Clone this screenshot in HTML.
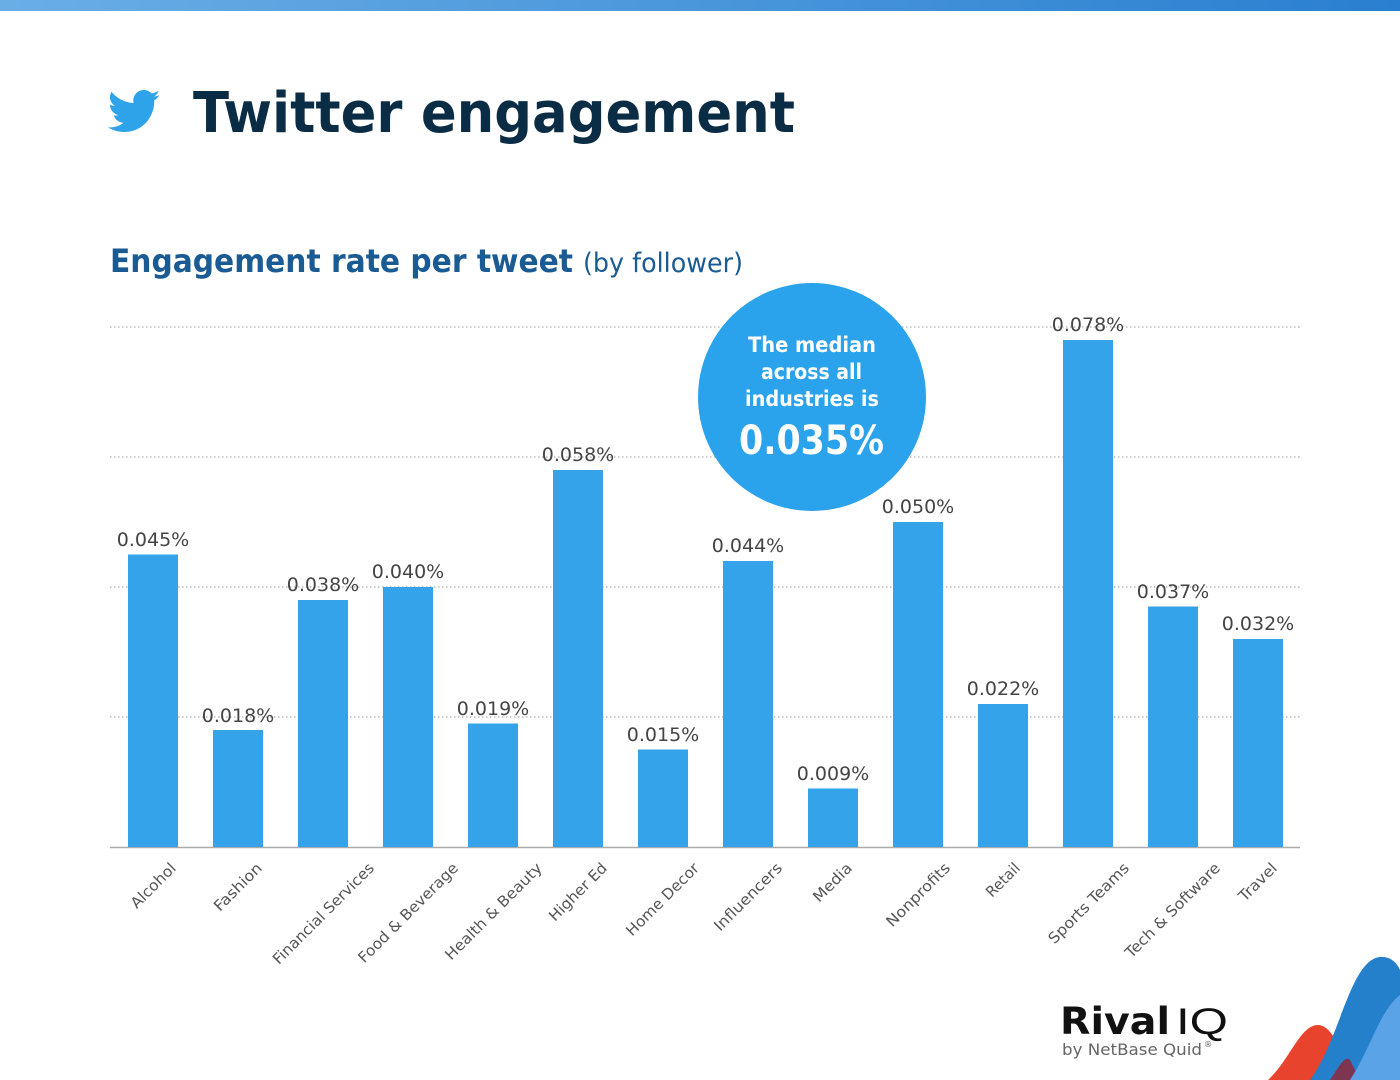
<!DOCTYPE html>
<html><head><meta charset="utf-8"><style>
html,body{margin:0;padding:0;background:#fff;}
svg{display:block;font-family:"DejaVu Sans","Liberation Sans",sans-serif;}
</style></head><body>
<svg width="1400" height="1080" viewBox="0 0 1400 1080" xmlns="http://www.w3.org/2000/svg">
<defs>
<linearGradient id="tb" x1="0" x2="1" y1="0" y2="0"><stop offset="0" stop-color="#6aaee6"/><stop offset="1" stop-color="#2a7fd0"/></linearGradient>
</defs>
<rect x="0" y="0" width="1400" height="11" fill="url(#tb)"/>
<path transform="translate(108,90) scale(2.2)" fill="#2ea3ea" d="M23.6 2.3c-.9.4-1.8.6-2.8.8 1-.6 1.8-1.6 2.1-2.7-.9.6-2 1-3.100 1.2C18.9.6 17.7 0 16.3 0c-2.7 0-4.8 2.2-4.8 4.8 0 .4 0 .8.1 1.1C7.6 5.7 4 3.800 1.600.8c-.4.7-.7 1.600-.7 2.400 0 1.700.9 3.200 2.200 4-.8 0-1.500-.2-2.200-.6v.1c0 2.300 1.700 4.300 3.900 4.700-.4.1-.8.2-1.300.2-.3 0-.6 0-.9-.1.6 1.900 2.400 3.400 4.500 3.400-1.700 1.300-3.700 2.100-6 2.100-.4 0-.8 0-1.200-.1 2.100 1.400 4.700 2.200 7.400 2.200 8.900 0 13.700-7.400 13.700-13.700v-.6c1-.7 1.800-1.500 2.400-2.500z"/>
<text x="193" y="132" font-size="56" font-weight="bold" fill="#0b2c45" textLength="602" lengthAdjust="spacingAndGlyphs">Twitter engagement</text>
<text x="110" y="272" font-size="32" font-weight="bold" fill="#1b5b94" textLength="463" lengthAdjust="spacingAndGlyphs">Engagement rate per tweet</text>
<text x="583" y="272" font-size="27" fill="#1b5b94" textLength="160" lengthAdjust="spacingAndGlyphs">(by follower)</text>
<g stroke="#999" stroke-width="1" stroke-dasharray="1.5,2.5">
<line x1="110" x2="1300" y1="327" y2="327"/><line x1="110" x2="1300" y1="457" y2="457"/>
<line x1="110" x2="1300" y1="587" y2="587"/><line x1="110" x2="1300" y1="717" y2="717"/>
</g>
<line x1="110" x2="1300" y1="847.5" y2="847.5" stroke="#aaa" stroke-width="1.5"/>
<g fill="#34a3ea">
<rect x="128" y="554.5" width="50" height="292.5"/>
<rect x="213" y="730" width="50" height="117"/>
<rect x="298" y="600" width="50" height="247"/>
<rect x="383" y="587" width="50" height="260"/>
<rect x="468" y="723.5" width="50" height="123.5"/>
<rect x="553" y="470" width="50" height="377"/>
<rect x="638" y="749.5" width="50" height="97.5"/>
<rect x="723" y="561" width="50" height="286"/>
<rect x="808" y="788.5" width="50" height="58.5"/>
<rect x="893" y="522" width="50" height="325"/>
<rect x="978" y="704" width="50" height="143"/>
<rect x="1063" y="340" width="50" height="507"/>
<rect x="1148" y="606.5" width="50" height="240.5"/>
<rect x="1233" y="639" width="50" height="208"/>
</g>
<g font-size="19" fill="#444" text-anchor="middle">
<text x="153" y="546">0.045%</text><text x="238" y="722">0.018%</text>
<text x="323" y="591">0.038%</text><text x="408" y="578">0.040%</text>
<text x="493" y="715">0.019%</text><text x="578" y="461">0.058%</text>
<text x="663" y="741">0.015%</text><text x="748" y="552">0.044%</text>
<text x="833" y="780">0.009%</text><text x="918" y="513">0.050%</text>
<text x="1003" y="695">0.022%</text><text x="1088" y="331">0.078%</text>
<text x="1173" y="598">0.037%</text><text x="1258" y="630">0.032%</text>
</g>
<g font-size="15" fill="#555" text-anchor="end">
<text transform="translate(177,869) rotate(-45)" textLength="57" lengthAdjust="spacingAndGlyphs">Alcohol</text>
<text transform="translate(263,869) rotate(-45)" textLength="61" lengthAdjust="spacingAndGlyphs">Fashion</text>
<text transform="translate(375,869) rotate(-45)" textLength="136" lengthAdjust="spacingAndGlyphs">Financial Services</text>
<text transform="translate(459,869) rotate(-45)" textLength="134" lengthAdjust="spacingAndGlyphs">Food &amp; Beverage</text>
<text transform="translate(543,869) rotate(-45)" textLength="130" lengthAdjust="spacingAndGlyphs">Health &amp; Beauty</text>
<text transform="translate(608,869) rotate(-45)" textLength="75" lengthAdjust="spacingAndGlyphs">Higher Ed</text>
<text transform="translate(700,869) rotate(-45)" textLength="96" lengthAdjust="spacingAndGlyphs">Home Decor</text>
<text transform="translate(783,869) rotate(-45)" textLength="89" lengthAdjust="spacingAndGlyphs">Influencers</text>
<text transform="translate(853,869) rotate(-45)" textLength="48" lengthAdjust="spacingAndGlyphs">Media</text>
<text transform="translate(951,869) rotate(-45)" textLength="83" lengthAdjust="spacingAndGlyphs">Nonprofits</text>
<text transform="translate(1021,869) rotate(-45)" textLength="41" lengthAdjust="spacingAndGlyphs">Retail</text>
<text transform="translate(1130,869) rotate(-45)" textLength="107" lengthAdjust="spacingAndGlyphs">Sports Teams</text>
<text transform="translate(1221,869) rotate(-45)" textLength="127" lengthAdjust="spacingAndGlyphs">Tech &amp; Software</text>
<text transform="translate(1278,869) rotate(-45)" textLength="47" lengthAdjust="spacingAndGlyphs">Travel</text>
</g>
<circle cx="812" cy="397" r="114" fill="#2ba3ec"/>
<g fill="#fff" font-weight="bold">
<text x="748" y="352" font-size="21" textLength="128" lengthAdjust="spacingAndGlyphs">The median</text>
<text x="761" y="379" font-size="21" textLength="101" lengthAdjust="spacingAndGlyphs">across all</text>
<text x="745" y="406" font-size="21" textLength="134" lengthAdjust="spacingAndGlyphs">industries is</text>
<text x="739" y="454" font-size="40" textLength="145" lengthAdjust="spacingAndGlyphs">0.035%</text>
</g>
<path d="M1268 1080 C1290 1060 1300 1025 1318 1025 C1335 1025 1345 1065 1360 1080 Z" fill="#e8432c"/>
<path d="M1310 1080 C1340 1040 1350 960 1380 957 C1392 956 1398 965 1400 970 L1400 1080 Z" fill="#2580cc"/>
<path d="M1330 1080 C1340 1065 1345 1055 1350 1060 L1360 1080Z" fill="#7e3552"/>
<path d="M1350 1080 C1370 1050 1380 1010 1400 995 L1400 1080 Z" fill="#5aa3e6"/>
<text x="1060" y="1034" font-size="37" font-weight="bold" fill="#111" textLength="110" lengthAdjust="spacingAndGlyphs">Rival</text>
<text x="1176" y="1034" font-size="37" fill="#111" font-family="Liberation Sans, sans-serif" textLength="52" lengthAdjust="spacingAndGlyphs">IQ</text>
<text x="1062" y="1055" font-size="16" fill="#666" textLength="140" lengthAdjust="spacingAndGlyphs">by NetBase Quid</text>
<text x="1204" y="1047" font-size="8" fill="#666">®</text>
</svg>
</body></html>
